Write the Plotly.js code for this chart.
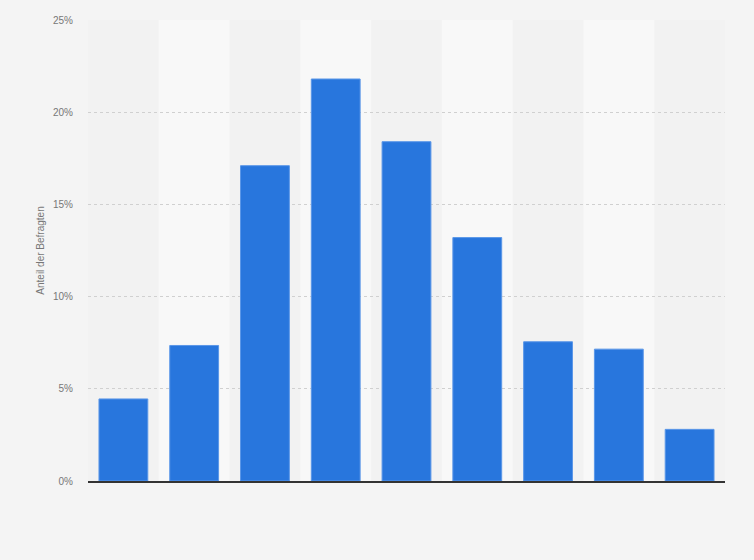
<!DOCTYPE html>
<html>
<head>
<meta charset="utf-8">
<script src="https://cdn.plot.ly/plotly-3.0.1.min.js"></script>
<style>
  html, body { margin: 0; padding: 0; background: #f4f4f4; }
  #chart { width: 754px; height: 560px; }
</style>
</head>
<body>
<div id="chart"></div>
<script>
// Kategorien (Beschriftung ist im Original ausgeblendet)
const categories = ["1", "2", "3", "4", "5", "6", "7", "8", "9"];
// Anteil der Befragten in %
const shares = [4.45, 7.35, 17.1, 21.8, 18.4, 13.2, 7.55, 7.15, 2.8];
const yTicks = [0, 5, 10, 15, 20, 25];
const yTickLabels = ["0%", "5%", "10%", "15%", "20%", "25%"];

// helle Streifen hinter jeder zweiten Kategorie
const bands = categories
  .map((c, i) => i)
  .filter(i => i % 2 === 1)
  .map(i => ({
    type: "rect",
    xref: "x",
    yref: "paper",
    x0: i - 0.5,
    x1: i + 0.5,
    y0: 0,
    y1: 1,
    fillcolor: "#f8f8f8",
    line: { width: 0 },
    layer: "below",
  }));

const data = [{
  type: "bar",
  x: categories.map((c, i) => i),
  y: shares,
  marker: { color: "#2876dd", line: { color: "#5b97e8", width: 1 } },
  width: 0.69,
  hoverinfo: "y",
}];

const layout = {
  width: 754,
  height: 560,
  margin: { l: 88, r: 29, t: 20, b: 79 },
  paper_bgcolor: "#f4f4f4",
  plot_bgcolor: "#f2f2f2",
  showlegend: false,
  font: { family: "Liberation Sans, Arial, sans-serif", size: 10, color: "#666" },
  shapes: bands,
  xaxis: {
    range: [-0.5, categories.length - 0.5],
    showticklabels: false,
    showgrid: false,
    zeroline: false,
    showline: true,
    linecolor: "#333",
    linewidth: 1.5,
    ticks: "",
    fixedrange: true,
  },
  yaxis: {
    range: [0, 25],
    tickvals: yTicks,
    ticktext: yTickLabels,
    showgrid: true,
    gridcolor: "#d0d0d0",
    griddash: "dot",
    gridwidth: 1,
    zeroline: false,
    showline: false,
    ticks: "",
    ticklabelstandoff: 14,
    tickfont: { size: 10, color: "#777" },
    title: { text: "Anteil der Befragten", font: { size: 10, color: "#777" }, standoff: 6 },
    fixedrange: true,
  },
};

Plotly.newPlot("chart", data, layout, { displayModeBar: false, staticPlot: true });
</script>
</body>
</html>
